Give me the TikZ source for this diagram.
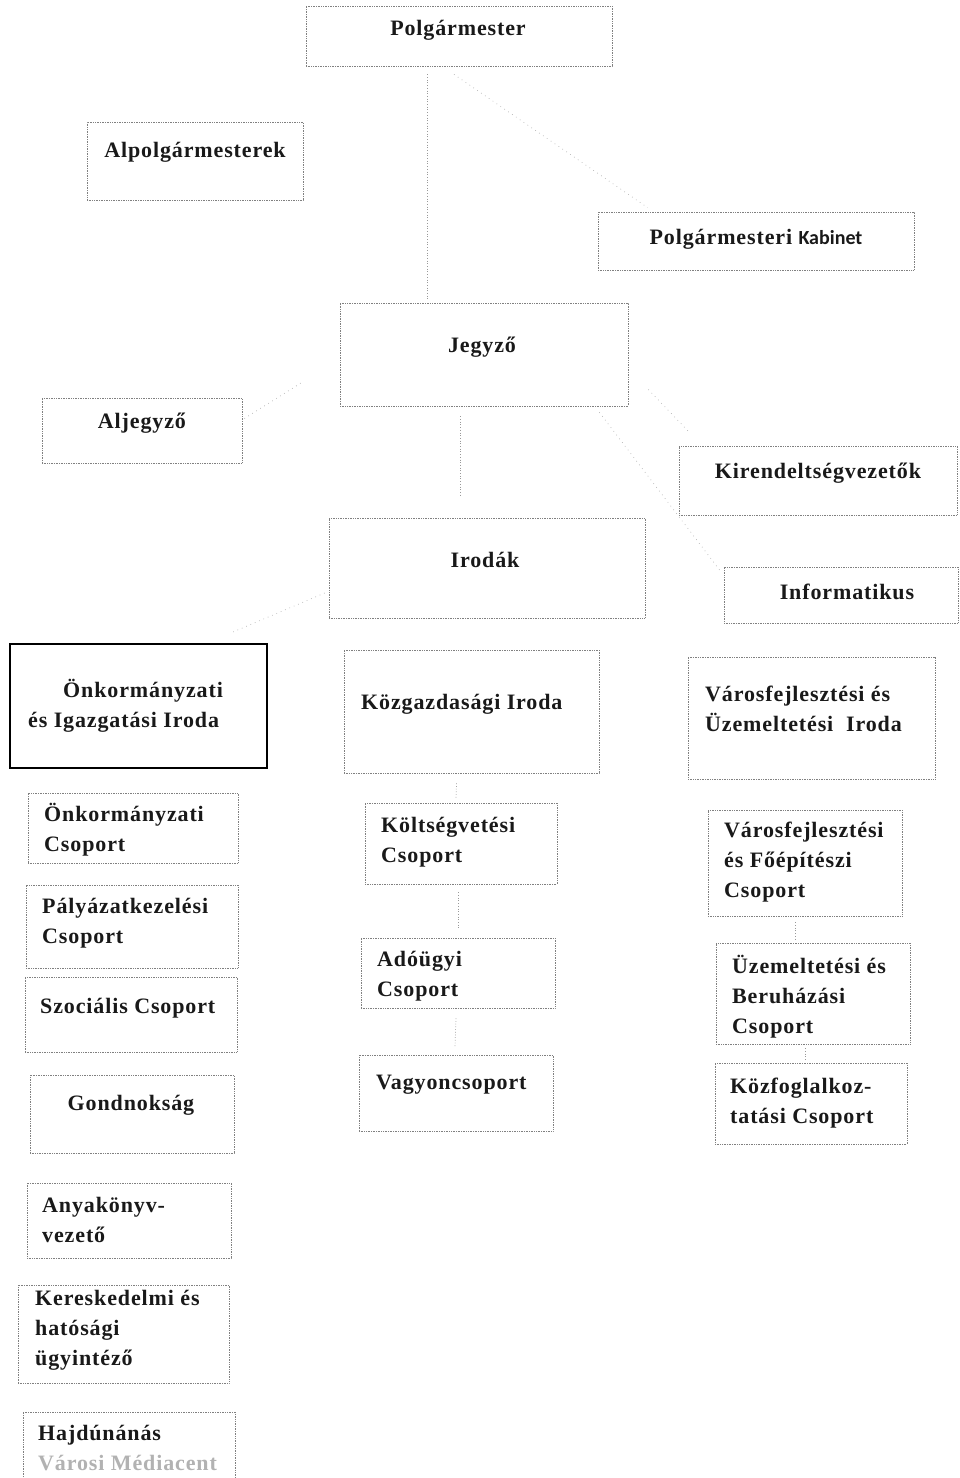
\documentclass[tikz,border=0pt]{standalone}
\usepackage{fontspec}
\setmainfont{Liberation Serif}[LetterSpace=4]
\newfontfamily\kabfont{Carlito}
\usetikzlibrary{fit}
\tikzset{
  x=1pt,y=1pt,
  box/.style={draw=black!50, densely dotted, line width=0.7pt, inner sep=0pt, rectangle},
  solidbox/.style={draw=black, line width=1.1pt, inner sep=0pt, rectangle},
  txt/.style={inner sep=0pt, font=\fontsize{22}{30}\selectfont\bfseries, align=left, text=black!90},
  ctxt/.style={txt, align=center},
  conn/.style={draw=black!40, dotted, line width=0.7pt},
  fconn/.style={draw=black!30, loosely dotted, line width=0.7pt}
}
\begin{document}
\begin{tikzpicture}
\useasboundingbox (0,0) rectangle (959,-1478);
\clip (0,0) rectangle (959,-1478);
% boxes
\node[box, fit={(306,-6) (612,-66)}] (pm) {};
\node[box, fit={(87,-122) (303,-200)}] (alp) {};
\node[box, fit={(598,-212) (914,-270)}] (kab) {};
\node[box, fit={(340,-303) (628,-406)}] (jeg) {};
\node[box, fit={(42,-398) (242,-463)}] (alj) {};
\node[box, fit={(679,-446) (957,-515)}] (kir) {};
\node[box, fit={(329,-518) (645,-618)}] (iro) {};
\node[box, fit={(724,-567) (958,-623)}] (inf) {};
\node[solidbox, fit={(10,-644) (267,-768)}] (onki) {};
\node[box, fit={(344,-650) (599,-773)}] (kozg) {};
\node[box, fit={(688,-657) (935,-779)}] (vari) {};
\node[box, fit={(28,-793) (238,-863)}] (onkcs) {};
\node[box, fit={(26,-885) (238,-968)}] (paly) {};
\node[box, fit={(25,-977) (237,-1052)}] (szoc) {};
\node[box, fit={(30,-1075) (234,-1153)}] (gond) {};
\node[box, fit={(27,-1183) (231,-1258)}] (anya) {};
\node[box, fit={(18,-1285) (229,-1383)}] (ker) {};
\node[box, fit={(23,-1412) (235,-1490)}] (hajd) {};
\node[box, fit={(365,-803) (557,-884)}] (kolt) {};
\node[box, fit={(361,-938) (555,-1008)}] (ado) {};
\node[box, fit={(359,-1055) (553,-1131)}] (vagy) {};
\node[box, fit={(708,-810) (902,-916)}] (varcs) {};
\node[box, fit={(716,-943) (910,-1044)}] (uzem) {};
\node[box, fit={(715,-1063) (907,-1144)}] (kozf) {};
% texts
\node[ctxt] (pmT) at (458,-30) {Polgármester};
\node[ctxt] (alpT) at (195,-152) {Alpolgármesterek};
\node[ctxt] (kabT) at (756,-239) {Polgármesteri {\kabfont\fontsize{20}{24}\selectfont Kabinet}};
\node[ctxt] (jegT) at (482,-347) {Jegyző};
\node[ctxt] (aljT) at (142,-423) {Aljegyző};
\node[ctxt] (kirT) at (818,-473) {Kirendeltségvezetők};
\node[ctxt] (iroT) at (485,-560) {Irodák};
\node[ctxt] (infT) at (847,-592) {Informatikus};
\node[txt, anchor=west] (onkiT) at (28,-706) {\hspace{35pt}Önkormányzati\\és Igazgatási Iroda};
\node[txt, anchor=west] (kozgT) at (361,-704) {Közgazdasági Iroda};
\node[txt, anchor=west] (variT) at (705,-709) {Városfejlesztési és\\Üzemeltetési\ \ Iroda};
\node[txt, anchor=west] (onkcsT) at (44,-830) {Önkormányzati\\Csoport};
\node[txt, anchor=west] (palyT) at (42,-923) {Pályázatkezelési\\Csoport};
\node[txt, anchor=west] (szocT) at (40,-1008) {Szociális Csoport};
\node[ctxt] (gondT) at (131,-1105) {Gondnokság};
\node[txt, anchor=west] (anyaT) at (42,-1220) {Anyakönyv-\\vezető};
\node[txt, anchor=west] (kerT) at (35,-1330) {Kereskedelmi és\\hatósági\\ügyintéző};
\begin{scope}
\clip (hajd.north west) rectangle ([xshift=-18pt]hajd.south east);
\node[txt, anchor=west] (hajdT) at (38,-1448) {Hajdúnánás\\{\color{black!30}Városi Médiacentrum}};
\end{scope}
\node[txt, anchor=west] (koltT) at (381,-842) {Költségvetési\\Csoport};
\node[txt, anchor=west] (adoT) at (377,-976) {Adóügyi\\Csoport};
\node[txt, anchor=west] (vagyT) at (376,-1085) {Vagyoncsoport};
\node[txt, anchor=west] (varcsT) at (724,-862) {Városfejlesztési\\és Főépítészi\\Csoport};
\node[txt, anchor=west] (uzemT) at (732,-997) {Üzemeltetési és\\Beruházási\\Csoport};
\node[txt, anchor=west] (kozfT) at (730,-1103) {Közfoglalkoz-\\tatási Csoport};
% connectors
\draw[conn] ([xshift=-32pt,yshift=-8pt]pm.south) -- ([xshift=-57pt,yshift=4pt]jeg.north);
\draw[fconn] ([xshift=-5pt,yshift=-8pt]pm.south) -- ([xshift=50pt,yshift=4pt]kab.north west);
\draw[fconn] ([yshift=12pt,xshift=2pt]alj.east) -- ([yshift=-28pt,xshift=-38pt]jeg.west);
\draw[conn] ([xshift=-24pt,yshift=-10pt]jeg.south) -- ([xshift=-27pt,yshift=22pt]iro.north);
\draw[fconn] ([xshift=20pt,yshift=-35pt]jeg.east) -- ([xshift=10pt,yshift=14pt]kir.north west);
\draw[fconn] ([xshift=-29pt,yshift=-6pt]jeg.south east) -- ([xshift=-2pt,yshift=-6pt]inf.north west);
\draw[fconn] ([xshift=-4pt,yshift=-25pt]iro.west) -- ([xshift=-38pt,yshift=10pt]onki.north east);
\draw[conn] ([xshift=-15pt,yshift=-10pt]kozg.south) -- ([xshift=-5pt,yshift=4pt]kolt.north);
\draw[conn] ([xshift=-3pt,yshift=-8pt]kolt.south) -- ([xshift=0pt,yshift=8pt]ado.north);
\draw[conn] ([xshift=-2pt,yshift=-10pt]ado.south) -- ([xshift=-1pt,yshift=8pt]vagy.north);
\draw[conn] ([xshift=-10pt,yshift=-6pt]varcs.south) -- ([xshift=-18pt,yshift=2pt]uzem.north);
\draw[conn] ([xshift=-8pt,yshift=-4pt]uzem.south) -- ([xshift=-6pt,yshift=2pt]kozf.north);
\end{tikzpicture}
\end{document}
